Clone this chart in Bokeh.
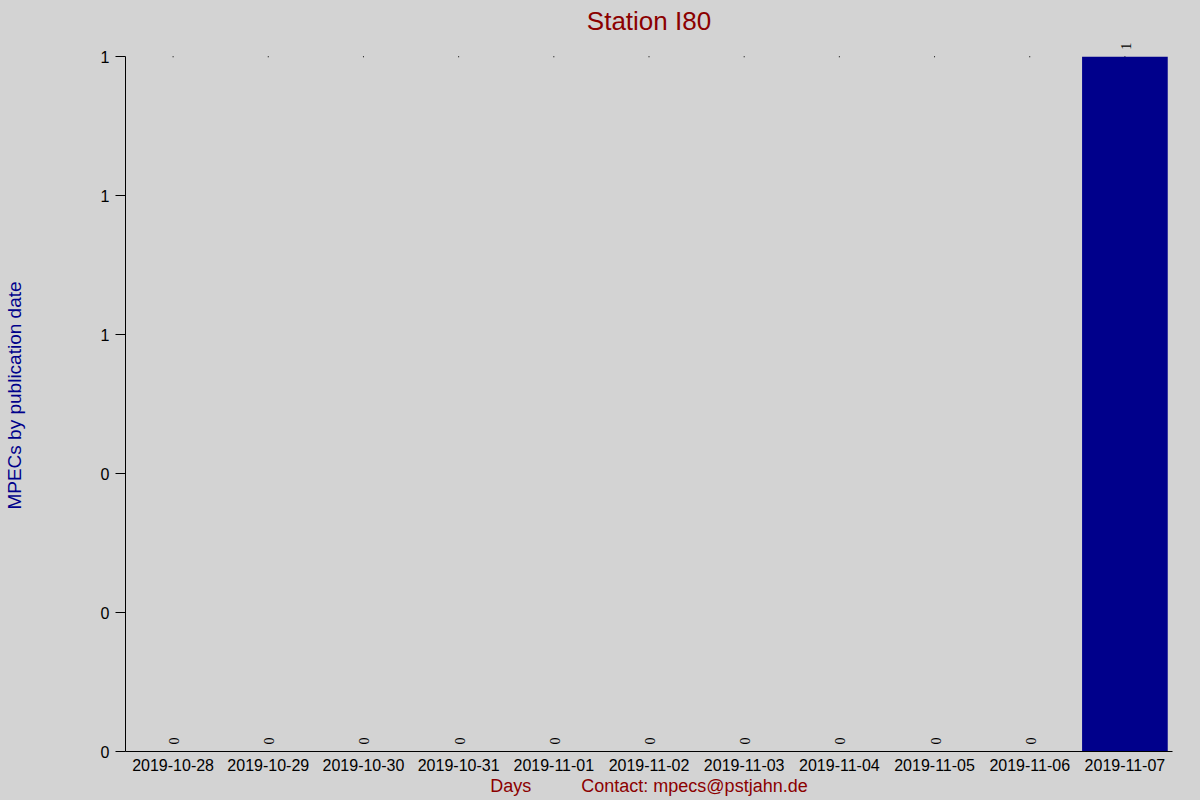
from math import pi
from bokeh.plotting import figure
from bokeh.models import (FactorRange, Range1d, FixedTicker, PrintfTickFormatter,
                          LabelSet, ColumnDataSource)
from bokeh.embed import file_html
from bokeh.resources import INLINE

# ---- data ----
dates = ["2019-10-28", "2019-10-29", "2019-10-30", "2019-10-31", "2019-11-01",
         "2019-11-02", "2019-11-03", "2019-11-04", "2019-11-05", "2019-11-06",
         "2019-11-07"]
counts = [0, 0, 0, 0, 0, 0, 0, 0, 0, 0, 1]
y_ticks = [0, 0.2, 0.4, 0.6, 0.8, 1.0]
title_text = "Station I80"
y_label = "MPECs by publication date"
x_label = "Days" + "\u00a0" * 10 + "Contact: mpecs@pstjahn.de"

FONT = "Liberation Sans"
BG = "#D3D3D3"
Y_HEADROOM = 0.025  # extra space above the top tick for the value label

src = ColumnDataSource(dict(date=dates, count=counts,
                            label=[str(c) for c in counts],
                            top=[max(y_ticks)] * len(dates)))

p = figure(x_range=FactorRange(*dates),
           y_range=Range1d(min(y_ticks), max(y_ticks) + Y_HEADROOM),
           width=1200, height=800, output_backend="svg", toolbar_location=None,
           min_border_left=125, min_border_right=28, min_border_top=39,
           min_border_bottom=49)

p.background_fill_color = BG
p.border_fill_color = BG
p.outline_line_color = None
p.xgrid.grid_line_color = None
p.ygrid.grid_line_color = None

# tiny markers at the top of each category
p.scatter(x="date", y="top", source=src, marker="square", size=1,
          color="black", line_color=None)

p.vbar(x="date", top="count", width=0.9, source=src,
       fill_color="#00008B", line_color=None)

labels = LabelSet(x="date", y="count", text="label", source=src, angle=pi / 2,
                  text_align="left", text_baseline="middle", x_offset=1, y_offset=7,
                  text_font=FONT, text_font_size="14px", text_color="black")
p.add_layout(labels)

# title
p.title.text = title_text
p.title.align = "center"
p.title.text_color = "#8B0000"
p.title.text_font = FONT
p.title.text_font_size = "26px"
p.title.text_font_style = "normal"
p.title.standoff = 7

# y axis
ya = p.yaxis[0]
ya.bounds = (min(y_ticks), max(y_ticks))
ya.ticker = FixedTicker(ticks=y_ticks)
ya.formatter = PrintfTickFormatter(format="%.0f")
ya.major_tick_out = 10
ya.major_tick_in = 0
ya.minor_tick_line_color = None
ya.major_label_standoff = 6
ya.major_label_text_font = FONT
ya.major_label_text_font_size = "16px"
ya.major_label_text_color = "black"
ya.axis_line_color = "black"
ya.axis_label = y_label
ya.axis_label_text_font = FONT
ya.axis_label_text_font_size = "19px"
ya.axis_label_text_font_style = "normal"
ya.axis_label_text_color = "#00008B"
ya.axis_label_text_baseline = "middle"
ya.axis_label_standoff = 73

# x axis
xa = p.xaxis[0]
xa.major_tick_out = 0
xa.major_tick_in = 0
xa.minor_tick_line_color = None
xa.major_label_standoff = 7
xa.major_label_text_font = FONT
xa.major_label_text_font_size = "16px"
xa.major_label_text_color = "black"
xa.axis_line_color = "black"
xa.axis_label = x_label
xa.axis_label_text_font = FONT
xa.axis_label_text_font_size = "18px"
xa.axis_label_text_font_style = "normal"
xa.axis_label_text_color = "#8B0000"
xa.axis_label_standoff = 2

html = file_html(p, INLINE)
html = html.replace("</head>", "<style>body{background-color:#d3d3d3;}</style></head>", 1)
open("out.html", "w").write(html)
